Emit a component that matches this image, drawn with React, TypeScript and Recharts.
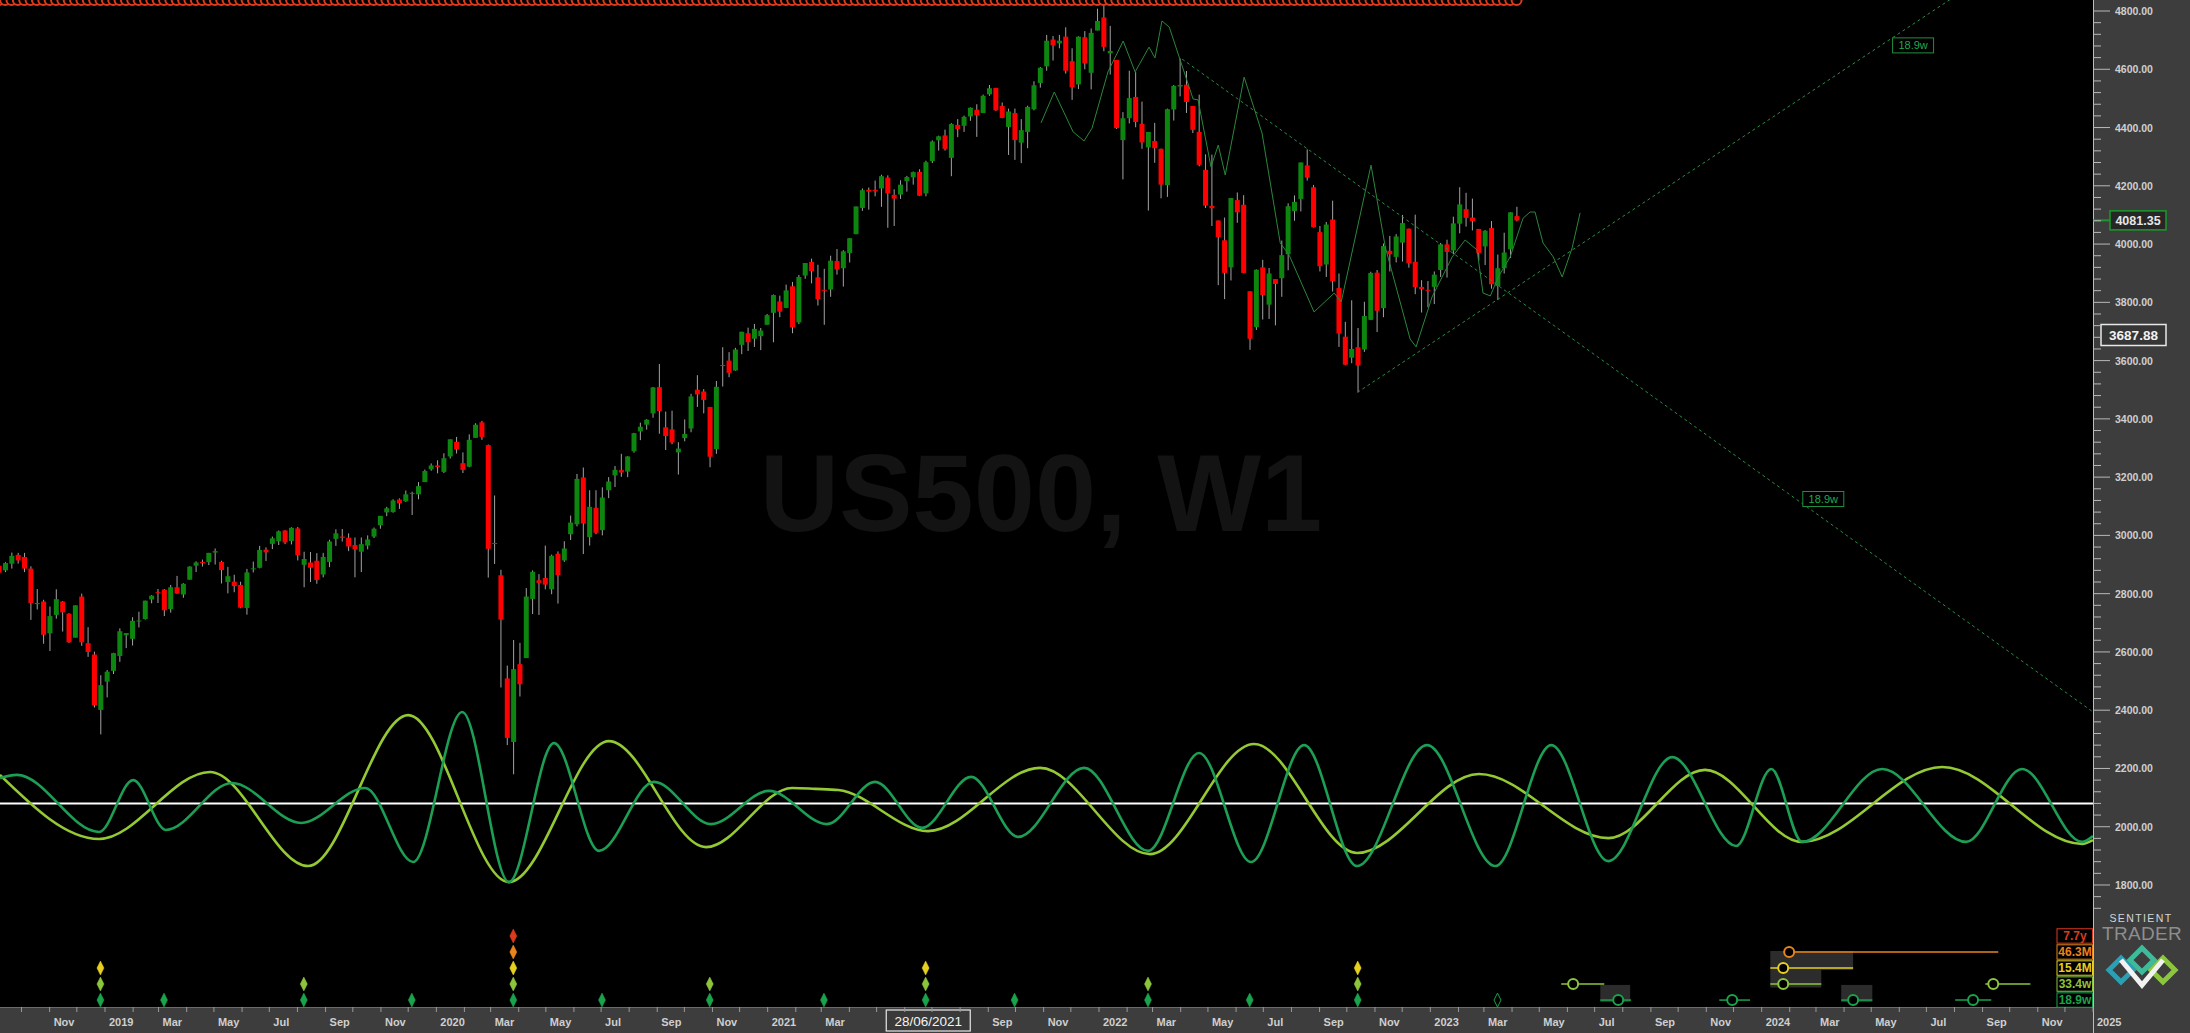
import {
  ComposedChart,
  Bar,
  Line,
  Scatter,
  XAxis,
  YAxis,
  ReferenceLine,
  ReferenceArea,
  ReferenceDot,
} from "recharts";

const W = 2190;
const H = 1033;

// weekly bars: week (monday), open, high, low, close
const candles: [string, number, number, number, number][] = [
  ["2018-09-03", 2896, 2917, 2864, 2872],
  ["2018-09-10", 2880, 2908, 2874, 2905],
  ["2018-09-17", 2903, 2941, 2886, 2930],
  ["2018-09-24", 2933, 2940, 2903, 2914],
  ["2018-10-01", 2926, 2940, 2874, 2886],
  ["2018-10-08", 2886, 2894, 2710, 2768],
  ["2018-10-15", 2764, 2816, 2746, 2768],
  ["2018-10-22", 2773, 2779, 2628, 2659],
  ["2018-10-29", 2664, 2756, 2603, 2723],
  ["2018-11-05", 2727, 2815, 2714, 2781],
  ["2018-11-12", 2773, 2775, 2670, 2736],
  ["2018-11-19", 2731, 2733, 2631, 2633],
  ["2018-11-26", 2649, 2760, 2649, 2760],
  ["2018-12-03", 2790, 2800, 2621, 2633],
  ["2018-12-10", 2630, 2685, 2583, 2600],
  ["2018-12-17", 2591, 2601, 2409, 2417],
  ["2018-12-24", 2401, 2520, 2317, 2486],
  ["2018-12-31", 2498, 2538, 2444, 2532],
  ["2019-01-07", 2535, 2597, 2524, 2596],
  ["2019-01-14", 2586, 2681, 2566, 2671],
  ["2019-01-21", 2657, 2665, 2613, 2665],
  ["2019-01-28", 2645, 2719, 2622, 2707],
  ["2019-02-04", 2706, 2738, 2684, 2708],
  ["2019-02-11", 2713, 2776, 2711, 2776],
  ["2019-02-18", 2780, 2795, 2767, 2793],
  ["2019-02-25", 2805, 2816, 2768, 2804],
  ["2019-03-04", 2814, 2816, 2723, 2743],
  ["2019-03-11", 2747, 2830, 2735, 2822],
  ["2019-03-18", 2822, 2861, 2800, 2800],
  ["2019-03-25", 2797, 2836, 2786, 2834],
  ["2019-04-01", 2848, 2894, 2848, 2893],
  ["2019-04-08", 2896, 2911, 2874, 2907],
  ["2019-04-15", 2909, 2917, 2893, 2905],
  ["2019-04-22", 2908, 2940, 2898, 2940],
  ["2019-04-29", 2941, 2955, 2900, 2946],
  ["2019-05-06", 2909, 2913, 2835, 2881],
  ["2019-05-13", 2840, 2892, 2801, 2860],
  ["2019-05-20", 2841, 2865, 2805, 2826],
  ["2019-05-27", 2830, 2841, 2750, 2752],
  ["2019-06-03", 2751, 2885, 2728, 2873],
  ["2019-06-10", 2885, 2910, 2873, 2887],
  ["2019-06-17", 2889, 2964, 2887, 2950],
  ["2019-06-24", 2951, 2959, 2912, 2942],
  ["2019-07-01", 2971, 2996, 2953, 2990],
  ["2019-07-08", 2980, 3017, 2967, 3014],
  ["2019-07-15", 3017, 3018, 2970, 2976],
  ["2019-07-22", 2981, 3028, 2969, 3026],
  ["2019-07-29", 3024, 3029, 2914, 2932],
  ["2019-08-05", 2899, 2944, 2822, 2919],
  ["2019-08-12", 2907, 2943, 2840, 2889],
  ["2019-08-19", 2913, 2939, 2834, 2847],
  ["2019-08-26", 2866, 2940, 2856, 2926],
  ["2019-09-02", 2909, 2985, 2891, 2979],
  ["2019-09-09", 2988, 3021, 2964, 3007],
  ["2019-09-16", 2996, 3022, 2979, 2992],
  ["2019-09-23", 2992, 3007, 2946, 2962],
  ["2019-09-30", 2967, 2993, 2856, 2952],
  ["2019-10-07", 2944, 2993, 2874, 2970],
  ["2019-10-14", 2965, 3000, 2952, 2986],
  ["2019-10-21", 2996, 3027, 2991, 3023],
  ["2019-10-28", 3035, 3066, 3023, 3067],
  ["2019-11-04", 3079, 3098, 3066, 3093],
  ["2019-11-11", 3080, 3124, 3078, 3120],
  ["2019-11-18", 3123, 3127, 3091, 3110],
  ["2019-11-25", 3117, 3154, 3115, 3141],
  ["2019-12-02", 3144, 3150, 3070, 3146],
  ["2019-12-09", 3141, 3183, 3124, 3169],
  ["2019-12-16", 3183, 3226, 3183, 3221],
  ["2019-12-23", 3227, 3247, 3222, 3240],
  ["2019-12-30", 3240, 3258, 3213, 3235],
  ["2020-01-06", 3218, 3282, 3214, 3265],
  ["2020-01-13", 3271, 3329, 3264, 3330],
  ["2020-01-20", 3321, 3338, 3281, 3295],
  ["2020-01-27", 3248, 3285, 3214, 3225],
  ["2020-02-03", 3236, 3347, 3234, 3328],
  ["2020-02-10", 3335, 3385, 3335, 3380],
  ["2020-02-17", 3388, 3393, 3328, 3338],
  ["2020-02-24", 3310, 3312, 2855, 2954],
  ["2020-03-02", 2974, 3137, 2902, 2972],
  ["2020-03-09", 2863, 2882, 2478, 2711],
  ["2020-03-16", 2509, 2553, 2280, 2305],
  ["2020-03-23", 2291, 2641, 2180, 2541],
  ["2020-03-30", 2558, 2631, 2447, 2489],
  ["2020-04-06", 2579, 2819, 2579, 2790],
  ["2020-04-13", 2782, 2880, 2730, 2875],
  ["2020-04-20", 2846, 2867, 2727, 2837],
  ["2020-04-27", 2854, 2965, 2815, 2831],
  ["2020-05-04", 2815, 2934, 2798, 2930],
  ["2020-05-11", 2937, 2945, 2766, 2864],
  ["2020-05-18", 2914, 2980, 2909, 2955],
  ["2020-05-25", 3004, 3068, 2984, 3044],
  ["2020-06-01", 3038, 3211, 3031, 3194],
  ["2020-06-08", 3199, 3233, 2936, 3041],
  ["2020-06-15", 2994, 3155, 2965, 3098],
  ["2020-06-22", 3095, 3155, 3004, 3009],
  ["2020-06-29", 3018, 3165, 3000, 3130],
  ["2020-07-06", 3155, 3200, 3128, 3185],
  ["2020-07-13", 3206, 3238, 3166, 3225],
  ["2020-07-20", 3224, 3280, 3201, 3216],
  ["2020-07-27", 3219, 3272, 3200, 3271],
  ["2020-08-03", 3289, 3352, 3284, 3351],
  ["2020-08-10", 3357, 3387, 3327, 3373],
  ["2020-08-17", 3380, 3399, 3363, 3397],
  ["2020-08-24", 3419, 3509, 3404, 3508],
  ["2020-08-31", 3509, 3588, 3349, 3427],
  ["2020-09-07", 3371, 3425, 3293, 3341],
  ["2020-09-14", 3364, 3428, 3313, 3319],
  ["2020-09-21", 3285, 3320, 3209, 3298],
  ["2020-09-28", 3334, 3398, 3323, 3348],
  ["2020-10-05", 3367, 3486, 3354, 3477],
  ["2020-10-12", 3500, 3550, 3441, 3484],
  ["2020-10-19", 3494, 3502, 3419, 3465],
  ["2020-10-26", 3441, 3441, 3234, 3270],
  ["2020-11-02", 3296, 3530, 3280, 3510],
  ["2020-11-09", 3583, 3646, 3511, 3585],
  ["2020-11-16", 3600, 3629, 3543, 3558],
  ["2020-11-23", 3566, 3644, 3565, 3638],
  ["2020-11-30", 3654, 3699, 3622, 3699],
  ["2020-12-07", 3694, 3713, 3633, 3663],
  ["2020-12-14", 3675, 3726, 3647, 3709],
  ["2020-12-21", 3684, 3712, 3636, 3703],
  ["2020-12-28", 3723, 3760, 3723, 3756],
  ["2021-01-04", 3764, 3827, 3663, 3825],
  ["2021-01-11", 3803, 3823, 3749, 3768],
  ["2021-01-18", 3781, 3861, 3780, 3841],
  ["2021-01-25", 3855, 3870, 3694, 3714],
  ["2021-02-01", 3731, 3894, 3725, 3887],
  ["2021-02-08", 3892, 3935, 3881, 3935],
  ["2021-02-15", 3939, 3950, 3865, 3907],
  ["2021-02-22", 3886, 3929, 3789, 3811],
  ["2021-03-01", 3843, 3915, 3723, 3842],
  ["2021-03-08", 3844, 3960, 3819, 3943],
  ["2021-03-15", 3942, 3983, 3895, 3913],
  ["2021-03-22", 3917, 3979, 3854, 3975],
  ["2021-03-29", 3969, 4021, 3937, 4020],
  ["2021-04-05", 4034, 4129, 4034, 4129],
  ["2021-04-12", 4124, 4191, 4114, 4185],
  ["2021-04-19", 4186, 4194, 4118, 4180],
  ["2021-04-26", 4186, 4218, 4164, 4181],
  ["2021-05-03", 4191, 4238, 4128, 4233],
  ["2021-05-10", 4228, 4236, 4056, 4174],
  ["2021-05-17", 4169, 4188, 4062, 4156],
  ["2021-05-24", 4170, 4219, 4155, 4204],
  ["2021-05-31", 4216, 4234, 4180, 4230],
  ["2021-06-07", 4229, 4249, 4204, 4247],
  ["2021-06-14", 4248, 4257, 4165, 4166],
  ["2021-06-21", 4174, 4286, 4164, 4281],
  ["2021-06-28", 4285, 4356, 4278, 4352],
  ["2021-07-05", 4356, 4372, 4321, 4370],
  ["2021-07-12", 4373, 4393, 4321, 4327],
  ["2021-07-19", 4296, 4415, 4233, 4412],
  ["2021-07-26", 4409, 4429, 4367, 4395],
  ["2021-08-02", 4406, 4441, 4385, 4437],
  ["2021-08-09", 4438, 4469, 4423, 4468],
  ["2021-08-16", 4461, 4480, 4368, 4442],
  ["2021-08-23", 4450, 4513, 4450, 4509],
  ["2021-08-30", 4514, 4546, 4509, 4535],
  ["2021-09-06", 4536, 4536, 4457, 4459],
  ["2021-09-13", 4474, 4486, 4432, 4433],
  ["2021-09-20", 4402, 4465, 4306, 4455],
  ["2021-09-27", 4450, 4465, 4289, 4357],
  ["2021-10-04", 4348, 4429, 4278, 4391],
  ["2021-10-11", 4385, 4475, 4329, 4471],
  ["2021-10-18", 4463, 4559, 4459, 4545],
  ["2021-10-25", 4553, 4608, 4537, 4605],
  ["2021-11-01", 4610, 4718, 4595, 4698],
  ["2021-11-08", 4702, 4714, 4630, 4682],
  ["2021-11-15", 4689, 4718, 4672, 4698],
  ["2021-11-22", 4712, 4744, 4585, 4595],
  ["2021-11-29", 4628, 4672, 4495, 4538],
  ["2021-12-06", 4548, 4713, 4532, 4712],
  ["2021-12-13", 4710, 4731, 4600, 4620],
  ["2021-12-20", 4588, 4740, 4531, 4725],
  ["2021-12-27", 4733, 4808, 4733, 4766],
  ["2022-01-03", 4778, 4819, 4662, 4677],
  ["2022-01-10", 4655, 4749, 4582, 4663],
  ["2022-01-17", 4632, 4632, 4395, 4398],
  ["2022-01-24", 4357, 4453, 4222, 4432],
  ["2022-01-31", 4432, 4595, 4414, 4501],
  ["2022-02-07", 4505, 4590, 4401, 4419],
  ["2022-02-14", 4413, 4489, 4327, 4349],
  ["2022-02-21", 4332, 4385, 4115, 4385],
  ["2022-02-28", 4354, 4416, 4279, 4329],
  ["2022-03-07", 4327, 4328, 4157, 4204],
  ["2022-03-14", 4202, 4465, 4162, 4463],
  ["2022-03-21", 4462, 4546, 4424, 4543],
  ["2022-03-28", 4541, 4637, 4507, 4546],
  ["2022-04-04", 4547, 4594, 4450, 4488],
  ["2022-04-11", 4474, 4474, 4381, 4392],
  ["2022-04-18", 4385, 4513, 4267, 4272],
  ["2022-04-25", 4255, 4308, 4124, 4132],
  ["2022-05-02", 4131, 4307, 4062, 4123],
  ["2022-05-09", 4081, 4081, 3859, 4024],
  ["2022-05-16", 4013, 4091, 3811, 3901],
  ["2022-05-23", 3920, 4158, 3875, 4158],
  ["2022-05-30", 4151, 4177, 4073, 4109],
  ["2022-06-06", 4135, 4168, 3900, 3901],
  ["2022-06-13", 3838, 3838, 3637, 3675],
  ["2022-06-20", 3715, 3913, 3705, 3912],
  ["2022-06-27", 3920, 3946, 3741, 3825],
  ["2022-07-04", 3792, 3918, 3743, 3899],
  ["2022-07-11", 3880, 3880, 3721, 3863],
  ["2022-07-18", 3883, 4012, 3819, 3962],
  ["2022-07-25", 3965, 4140, 3910, 4130],
  ["2022-08-01", 4113, 4167, 4080, 4145],
  ["2022-08-08", 4155, 4280, 4112, 4280],
  ["2022-08-15", 4270, 4325, 4218, 4228],
  ["2022-08-22", 4195, 4203, 4057, 4058],
  ["2022-08-29", 4041, 4062, 3906, 3924],
  ["2022-09-05", 3930, 4076, 3887, 4067],
  ["2022-09-12", 4084, 4149, 3837, 3873],
  ["2022-09-19", 3849, 3899, 3647, 3693],
  ["2022-09-26", 3682, 3733, 3584, 3586],
  ["2022-10-03", 3610, 3807, 3591, 3640],
  ["2022-10-10", 3646, 3712, 3491, 3583],
  ["2022-10-17", 3638, 3802, 3630, 3753],
  ["2022-10-24", 3740, 3905, 3739, 3901],
  ["2022-10-31", 3902, 3911, 3698, 3771],
  ["2022-11-07", 3780, 4002, 3749, 3993],
  ["2022-11-14", 3977, 4028, 3906, 3965],
  ["2022-11-21", 3956, 4034, 3937, 4026],
  ["2022-11-28", 4005, 4100, 3940, 4072],
  ["2022-12-05", 4053, 4053, 3919, 3934],
  ["2022-12-12", 3939, 4101, 3828, 3852],
  ["2022-12-19", 3853, 3876, 3765, 3845],
  ["2022-12-26", 3843, 3873, 3783, 3840],
  ["2023-01-02", 3853, 3906, 3794, 3895],
  ["2023-01-09", 3911, 4004, 3887, 3999],
  ["2023-01-16", 3999, 4015, 3885, 3973],
  ["2023-01-23", 3978, 4094, 3966, 4071],
  ["2023-01-30", 4070, 4195, 4037, 4136],
  ["2023-02-06", 4120, 4176, 4060, 4090],
  ["2023-02-13", 4091, 4156, 4047, 4079],
  ["2023-02-20", 4052, 4052, 3943, 3970],
  ["2023-02-27", 3992, 4048, 3928, 4046],
  ["2023-03-06", 4055, 4079, 3847, 3862],
  ["2023-03-13", 3856, 3964, 3808, 3917],
  ["2023-03-20", 3917, 4039, 3899, 3971],
  ["2023-03-27", 3982, 4110, 3952, 4109],
  ["2023-04-03", 4096, 4128, 4078, 4081],
];

// cycle waves (decimal year, price level)
const wave189w: [number, number][] = [
  [2018.683, 2167], [2018.734, 2178], [2018.982, 1982], [2019.085, 2160], [2019.184, 1989],
  [2019.383, 2150], [2019.592, 2013], [2019.785, 2133], [2019.93, 1879], [2020.078, 2394],
  [2020.219, 1810], [2020.355, 2287], [2020.491, 1917], [2020.657, 2154], [2020.829, 2009],
  [2021.004, 2123], [2021.179, 2009], [2021.324, 2154], [2021.466, 1996], [2021.614, 2171],
  [2021.756, 1965], [2021.955, 2202], [2022.148, 1917], [2022.302, 2253], [2022.459, 1879],
  [2022.619, 2280], [2022.779, 1865], [2022.99, 2280], [2023.196, 1865], [2023.365, 2280],
  [2023.537, 1882], [2023.73, 2239], [2023.923, 1934], [2024.029, 2198], [2024.122, 1948],
  [2024.364, 2198], [2024.617, 1948], [2024.786, 2198], [2024.967, 1948], [2025.0, 1968],
];

const wave334w: [number, number][] = [
  [2018.683, 2178], [2018.982, 1958], [2019.317, 2188], [2019.613, 1865], [2019.915, 2383],
  [2020.219, 1810], [2020.521, 2294], [2020.814, 1930], [2021.074, 2133], [2021.143, 2130],
  [2021.213, 2126], [2021.484, 1985], [2021.822, 2202], [2022.154, 1906], [2022.468, 2284],
  [2022.779, 1910], [2023.147, 2181], [2023.537, 1961], [2023.829, 2195], [2024.122, 1948],
  [2024.545, 2205], [2024.967, 1941], [2025.0, 1954],
];

// composite projection line
const composite: [number, number][] = [
  [2021.825, 4416], [2021.865, 4522], [2021.922, 4385], [2021.955, 4354], [2021.979, 4398],
  [2022.027, 4591], [2022.073, 4697], [2022.109, 4591], [2022.151, 4676], [2022.169, 4639],
  [2022.19, 4766], [2022.212, 4745], [2022.284, 4498], [2022.299, 4495], [2022.338, 4265],
  [2022.36, 4340], [2022.381, 4237], [2022.438, 4573], [2022.492, 4381], [2022.547, 4004],
  [2022.574, 3962], [2022.649, 3767], [2022.71, 3832], [2022.731, 3801], [2022.821, 4271],
  [2022.864, 3990], [2022.939, 3674], [2022.957, 3647], [2023.005, 3818], [2023.066, 3956],
  [2023.105, 4014], [2023.141, 3980], [2023.159, 3832], [2023.181, 3822], [2023.205, 3887],
  [2023.241, 3956], [2023.28, 4089], [2023.301, 4110], [2023.316, 4110], [2023.34, 4004],
  [2023.371, 3956], [2023.398, 3887], [2023.428, 3987], [2023.452, 4107],
];

const trendDown: [number, number][] = [[2022.251, 4635], [2025.0, 2394]];
const trendUp: [number, number][] = [[2022.78, 3491], [2024.6, 4863]];
const trendLabels: [number, number][] = [[2024.457, 4682], [2024.186, 3125]];

// cycle troughs (weeks)
const troughs7y = ["2020-03-23"];
const troughs46M = ["2020-03-23"];
const troughs15M = ["2018-12-24", "2020-03-23", "2021-06-21", "2022-10-10"];
const troughs334w = ["2018-12-24", "2019-08-05", "2020-03-23", "2020-10-26", "2021-06-21", "2022-02-21", "2022-10-10"];
const troughs189w = [
  "2018-12-24", "2019-03-04", "2019-08-05", "2019-12-02", "2020-03-23", "2020-06-29", "2020-10-26",
  "2021-03-01", "2021-06-21", "2021-09-27", "2022-02-21", "2022-06-13", "2022-10-10",
];
const pending189w = ["2023-03-13"];

// projected troughs: [centre, from, to]
const proj46M: [number, number, number][] = [[2024.083, 2024.083, 2024.714]];
const proj15M: [number, number, number][] = [[2024.065, 2024.026, 2024.276]];
const proj334w: [number, number, number][] = [
  [2023.431, 2023.395, 2023.525], [2024.065, 2024.026, 2024.18], [2024.699, 2024.675, 2024.811],
];
const proj189w: [number, number, number][] = [
  [2023.567, 2023.513, 2023.606], [2023.911, 2023.872, 2023.965],
  [2024.276, 2024.24, 2024.334], [2024.638, 2024.584, 2024.693],
];
const projBoxes: [number, number, number, number][] = [
  [2024.026, 2024.276, 1508, 1573],
  [2024.026, 2024.18, 1448, 1508],
  [2024.24, 2024.334, 1398, 1457],
  [2023.513, 2023.603, 1398, 1457],
];

const cycleNames = ["7.7y", "46.3M", "15.4M", "33.4w", "18.9w"];
const cycleColors = ["#dc3a1c", "#e8841c", "#e6cf1e", "#8cc43c", "#1aa24c"];
const rowLevels = [1625, 1570, 1515, 1460, 1405];

const currentPrice = 4081.35;
const crossPrice = 3687.88;
const crossDate = "2021-06-28";
const zeroLine = 2080;

const MONTHS = ["Jan", "Feb", "Mar", "Apr", "May", "Jun", "Jul", "Aug", "Sep", "Oct", "Nov", "Dec"];

const T0 = 2018.6831;
const T1 = 2025.0;
const Y0 = 1381.2;
const Y1 = 4837.8;

const yearFrac = (ms: number) => {
  const y = new Date(ms).getUTCFullYear();
  const a = Date.UTC(y, 0, 1);
  const b = Date.UTC(y + 1, 0, 1);
  return y + (ms - a) / (b - a);
};
const weekT = (d: string) => yearFrac(Date.parse(d) + 3 * 864e5);
const crossT = yearFrac(Date.parse(crossDate));

const candleData = candles.map(([d, o, h, l, c]) => ({ t: weekT(d), o, h, l, c, range: [l, h] }));
const toPts = (a: [number, number][]) => a.map(([t, v]) => ({ t, v }));

const monthTicks: number[] = [];
const tickLabel = new Map<string, string>();
for (let y = 2018; y <= 2025; y++) {
  for (let m = 0; m < 12; m++) {
    const t = yearFrac(Date.UTC(y, m, 1));
    if (t < T0 || t > T1 + 1e-9) continue;
    monthTicks.push(t);
    // labels covered by the crosshair date tag are not shown
    const hidden = t > crossT - 0.2 && t < crossT + 0.13;
    if (m % 2 === 0 && !hidden) tickLabel.set(t.toFixed(6), m === 0 ? String(y) : MONTHS[m]);
  }
}
const priceTicks: number[] = [];
for (let v = 1720; v <= 4800; v += 40) priceTicks.push(v);

const NARROW = "'Liberation Sans Narrow', 'Arial Narrow', 'Liberation Sans', Arial, sans-serif";
const SANS = "'Liberation Sans', Arial, sans-serif";

const Candle = (props: any) => {
  const { x, y, width, height, index } = props;
  if (x == null || y == null || !(Math.abs(height) > 0.5)) return null;
  const d = candleData[index];
  if (!d) return null;
  const top = Math.min(y, y + height);
  const bot = Math.max(y, y + height);
  if (top < 2) return null;
  const span = d.h - d.l || 1;
  const py = (v: number) => top + ((d.h - v) / span) * (bot - top);
  const cx = x + width / 2;
  const yo = py(d.o);
  const yc = py(d.c);
  const bt = Math.min(yo, yc);
  const bh = Math.max(1, Math.abs(yc - yo));
  return (
    <g>
      <line x1={cx} x2={cx} y1={top} y2={bot} stroke="#a3a3a3" strokeWidth={1} />
      <rect x={x} y={bt} width={width} height={bh} fill={d.c >= d.o ? "#0d860f" : "#ff0000"} />
    </g>
  );
};

const PriceTick = (p: any) => {
  const { x, y, payload } = p;
  const v = payload.value as number;
  const major = v % 200 === 0;
  return (
    <g>
      <line x1={x} x2={x + (major ? 17 : 8)} y1={y} y2={y} stroke="#b8b8b8" strokeWidth={1} />
      {major && (
        <text x={x + 22} y={y + 4} fill="#cfcfcf" fontSize={10.5} fontWeight="bold" fontFamily={SANS}>
          {v.toFixed(2)}
        </text>
      )}
    </g>
  );
};

const TimeTick = (p: any) => {
  const { x, y, payload } = p;
  const lab = tickLabel.get(Number(payload.value).toFixed(6));
  return (
    <g>
      <line x1={x} x2={x} y1={y} y2={y + 5} stroke="#9a9a9a" strokeWidth={1} />
      {lab && (
        <text x={x + 4} y={y + 19} fill="#cfcfcf" fontSize={11} fontWeight="bold" fontFamily={NARROW}>
          {lab}
        </text>
      )}
    </g>
  );
};

const Diamond = (color: string, hollow = false) => (p: any) => {
  const { cx, cy } = p;
  if (cx == null) return null;
  const pts = `${cx},${cy - 7} ${cx + 3.5},${cy} ${cx},${cy + 7} ${cx - 3.5},${cy}`;
  return <polygon points={pts} fill={hollow ? "none" : color} stroke={color} strokeWidth={hollow ? 1 : 0.5} />;
};

const Ring = (color: string) => (p: any) => {
  const { cx, cy } = p;
  if (cx == null) return null;
  return <circle cx={cx} cy={cy} r={5} fill="#000" stroke={color} strokeWidth={2} />;
};

const TrendTag = (p: any) => {
  const { cx, cy } = p;
  return (
    <g>
      <rect x={cx - 20.5} y={cy - 7.5} width={41} height={15} fill="#000" stroke="#1f8f3f" strokeWidth={1} />
      <text x={cx} y={cy + 4} textAnchor="middle" fill="#22a84c" fontSize={11} fontFamily={NARROW}>
        18.9w
      </text>
    </g>
  );
};

const edgeBox = (vb: any) => {
  const right = vb.x + Math.abs(vb.width || 0);
  return { right, y: vb.y };
};

const CurrentTag = (p: any) => {
  const { right, y } = edgeBox(p.viewBox);
  return (
    <g>
      <line x1={right} x2={right + 17} y1={y} y2={y} stroke="#1a9a2a" strokeWidth={2} />
      <rect x={right + 17} y={y - 9.5} width={56} height={19} fill="#262626" stroke="#1a9a2a" strokeWidth={1.5} />
      <text x={right + 45} y={y + 4.5} textAnchor="middle" fill="#e6e6e6" fontSize={12.5} fontWeight="bold" fontFamily={SANS}>
        {currentPrice.toFixed(2)}
      </text>
    </g>
  );
};

const CrossTag = (p: any) => {
  const { right, y } = edgeBox(p.viewBox);
  return (
    <g>
      <rect x={right + 8} y={y - 10.5} width={65} height={21} fill="#363636" stroke="#e8e8e8" strokeWidth={1.5} />
      <text x={right + 40.5} y={y + 5} textAnchor="middle" fill="#f2f2f2" fontSize={13.5} fontWeight="bold" fontFamily={SANS}>
        {crossPrice.toFixed(2)}
      </text>
    </g>
  );
};

const DateTag = (p: any) => {
  const vb = p.viewBox;
  const x = vb.x;
  const bottom = Math.max(vb.y, vb.y + (vb.height || 0));
  const [yy, mm, dd] = crossDate.split("-");
  return (
    <g>
      <rect x={x - 43} y={bottom + 3} width={84} height={21} fill="#3a3a3a" stroke="#e8e8e8" strokeWidth={1.2} />
      <text x={x - 1} y={bottom + 18.5} textAnchor="middle" fill="#f4f4f4" fontSize={13.5} fontFamily={SANS}>
        {`${dd}/${mm}/${yy}`}
      </text>
    </g>
  );
};

const CycleTag = (i: number) => (p: any) => {
  const { right, y } = edgeBox(p.viewBox);
  return (
    <g>
      <rect x={right - 36} y={y - 7.2} width={35.5} height={14.4} fill="#000" stroke={cycleColors[i]} strokeWidth={1} />
      <text x={right - 18} y={y + 4.3} textAnchor="middle" fill={cycleColors[i]} fontSize={12} fontWeight="bold" fontFamily={NARROW}>
        {cycleNames[i]}
      </text>
    </g>
  );
};

const troughRows = [troughs7y, troughs46M, troughs15M, troughs334w, troughs189w];
const projRows: [number, number, number][][] = [[], proj46M, proj15M, proj334w, proj189w];

export default function App() {
  return (
    <div style={{ position: "relative", width: W, height: H, background: "#000", overflow: "hidden" }}>
      <style>{`body{margin:0;background:#000}`}</style>
      <div
        style={{
          position: "absolute", left: 2093, top: 0, width: 97, height: H,
          background: "#3d3d3d", borderLeft: "1px solid #bcbcbc", boxSizing: "border-box",
        }}
      />
      <div
        style={{
          position: "absolute", left: 0, top: 1007, width: 2093, height: 26,
          background: "#3d3d3d", borderTop: "1px solid #6a6a6a", boxSizing: "border-box",
        }}
      />
      <svg width={W} height={H} style={{ position: "absolute", left: 0, top: 0 }}>
        <text x={1041} y={531} textAnchor="middle" fontFamily={SANS} fontWeight="bold" fontSize={110} fill="#131313">
          US500, W1
        </text>
      </svg>
      <div style={{ position: "absolute", left: 0, top: 0 }}>
        <ComposedChart width={W} height={H} data={candleData} margin={{ top: 0, right: 0, bottom: 0, left: 0 }}>
          <XAxis
            dataKey="t" type="number" domain={[T0, T1]} allowDataOverflow ticks={monthTicks} interval={0}
            tick={<TimeTick />} tickLine={false} axisLine={false} tickSize={0} tickMargin={0} height={26}
          />
          {/* candles get their own (hidden) time axis so the bar width is set by the weekly spacing only */}
          <XAxis xAxisId="bars" dataKey="t" type="number" domain={[T0, T1]} allowDataOverflow hide />
          <YAxis
            type="number" orientation="right" domain={[Y0, Y1]} allowDataOverflow ticks={priceTicks} interval={0}
            tick={<PriceTick />} tickLine={false} axisLine={false} tickSize={0} tickMargin={0} width={97}
          />
          {projBoxes.map(([x1, x2, y1, y2], i) => (
            <ReferenceArea key={`box${i}`} x1={x1} x2={x2} y1={y1} y2={y2} fill="#2c2c2c" fillOpacity={1} stroke="none" ifOverflow="hidden" />
          ))}
          <Bar xAxisId="bars" dataKey="range" barSize={5} shape={Candle} isAnimationActive={false} />
          <ReferenceLine y={zeroLine} stroke="#ffffff" strokeWidth={2} />
          <Line data={toPts(wave334w)} dataKey="v" type="monotone" stroke="#95c934" strokeWidth={2.6} dot={false} isAnimationActive={false} />
          <Line data={toPts(wave189w)} dataKey="v" type="monotone" stroke="#1c9e55" strokeWidth={2.6} dot={false} isAnimationActive={false} />
          <Line data={toPts(composite)} dataKey="v" type="linear" stroke="#2b873d" strokeWidth={1} dot={false} isAnimationActive={false} />
          <ReferenceLine
            segment={[{ x: trendDown[0][0], y: trendDown[0][1] }, { x: trendDown[1][0], y: trendDown[1][1] }]}
            stroke="#2a8c42" strokeWidth={1} strokeDasharray="3 3" ifOverflow="hidden"
          />
          <ReferenceLine
            segment={[{ x: trendUp[0][0], y: trendUp[0][1] }, { x: trendUp[1][0], y: trendUp[1][1] }]}
            stroke="#2a8c42" strokeWidth={1} strokeDasharray="3 3" ifOverflow="hidden"
          />
          {trendLabels.map(([t, v], i) => (
            <ReferenceDot key={`tl${i}`} x={t} y={v} shape={TrendTag} />
          ))}
          {projRows.map((rows, r) =>
            rows.map(([, a, b], i) => (
              <ReferenceLine
                key={`pl${r}-${i}`}
                segment={[{ x: a, y: rowLevels[r] }, { x: b, y: rowLevels[r] }]}
                stroke={cycleColors[r]} strokeWidth={1.5}
              />
            ))
          )}
          {troughRows.map((dates, r) => (
            <Scatter
              key={`tr${r}`}
              data={dates.map((d) => ({ t: weekT(d), v: rowLevels[r] }))}
              dataKey="v" shape={Diamond(cycleColors[r])} isAnimationActive={false}
            />
          ))}
          <Scatter
            data={pending189w.map((d) => ({ t: weekT(d), v: rowLevels[4] }))}
            dataKey="v" shape={Diamond(cycleColors[4], true)} isAnimationActive={false}
          />
          {projRows.map((rows, r) => (
            <Scatter
              key={`pc${r}`}
              data={rows.map(([c]) => ({ t: c, v: rowLevels[r] }))}
              dataKey="v" shape={Ring(cycleColors[r])} isAnimationActive={false}
            />
          ))}
          {rowLevels.map((lv, i) => (
            <ReferenceLine key={`cl${i}`} y={lv} stroke="none" label={CycleTag(i)} />
          ))}
          <ReferenceLine y={currentPrice} stroke="none" label={CurrentTag} />
          <ReferenceLine y={crossPrice} stroke="none" label={CrossTag} />
          <ReferenceLine x={crossT} stroke="none" label={DateTag} />
        </ComposedChart>
      </div>
      <svg width={97} height={110} style={{ position: "absolute", left: 2093, top: 905 }}>
        <text x={48} y={17} textAnchor="middle" fill="#d6d6d6" fontSize={10.5} letterSpacing={1.4} fontFamily={SANS}>
          SENTIENT
        </text>
        <text x={49} y={35} textAnchor="middle" fill="#8e8e8e" fontSize={19} letterSpacing={0.3} fontFamily={SANS}>
          TRADER
        </text>
        <polygon points="16,65 28,53 40,65 28,77" fill="none" stroke="#2b9fb3" strokeWidth={5} />
        <polygon points="37,55 49,43 61,55 49,67" fill="none" stroke="#3dbb9a" strokeWidth={5} />
        <polygon points="58,65 70,53 82,65 70,77" fill="none" stroke="#8cc63f" strokeWidth={5} />
        <polyline points="28,55 49,80 70,55" fill="none" stroke="#f2f2f2" strokeWidth={5} />
      </svg>
    </div>
  );
}
